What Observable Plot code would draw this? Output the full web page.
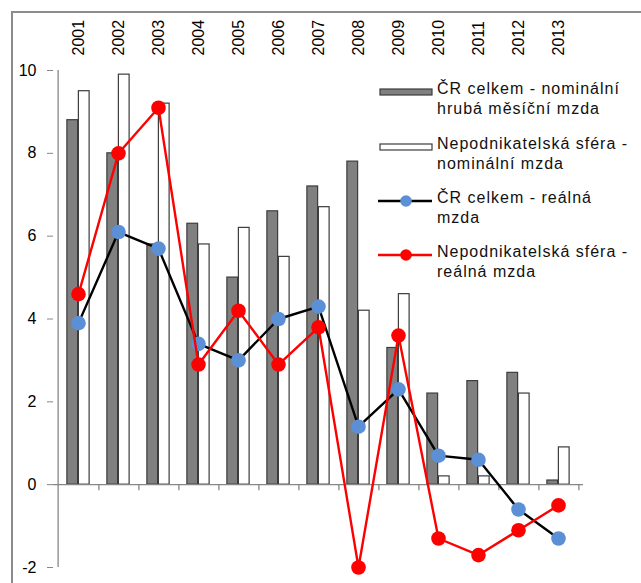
<!DOCTYPE html>
<html>
<head>
<meta charset="utf-8">
<script src="https://cdn.jsdelivr.net/npm/d3@7"></script>
<script src="https://cdn.jsdelivr.net/npm/@observablehq/plot@0.6"></script>
<style>
  html, body { margin: 0; padding: 0; background: #fff; overflow: hidden; }
  #wrap { position: relative; width: 641px; height: 583px; font-family: "Liberation Sans", Arial, sans-serif; }
  #border { position: absolute; left: 11px; top: 11px; width: 700px; height: 700px;
            border-left: 2px solid #8c8c8c; border-top: 2px solid #8c8c8c; pointer-events: none; }
  #chart { position: absolute; left: 0; top: 0; }
  #legend { position: absolute; left: 378px; top: 0; width: 263px; font-size: 16px; font-weight: 400; letter-spacing: 1px; color: #111; }
  .item { position: absolute; left: 0; }
  .item svg { position: absolute; left: 0; }
  .item .t { position: absolute; left: 59px; line-height: 20px; white-space: nowrap; }
</style>
</head>
<body>
<div id="wrap">
  <div id="chart"></div>
  <div id="border"></div>
  <div id="legend"></div>
</div>
<script>
// ---- data ----
const years = ["2001","2002","2003","2004","2005","2006","2007","2008","2009","2010","2011","2012","2013"];
const nominalCR = [8.8, 8.0, 5.8, 6.3, 5.0, 6.6, 7.2, 7.8, 3.3, 2.2, 2.5, 2.7, 0.1];
const nominalNS = [9.5, 9.9, 9.2, 5.8, 6.2, 5.5, 6.7, 4.2, 4.6, 0.2, 0.2, 2.2, 0.9];
const realCR    = [3.9, 6.1, 5.7, 3.4, 3.0, 4.0, 4.3, 1.4, 2.3, 0.7, 0.6, -0.6, -1.3];
const realNS    = [4.6, 8.0, 9.1, 2.9, 4.2, 2.9, 3.8, -2.0, 3.6, -1.3, -1.7, -1.1, -0.5];
const yTicks = [-2, 0, 2, 4, 6, 8, 10];
const seriesNames = [
  ["ČR celkem - nominální", "hrubá měsíční mzda"],
  ["Nepodnikatelská sféra -", "nominální mzda"],
  ["ČR celkem - reálná", "mzda"],
  ["Nepodnikatelská sféra -", "reálná mzda"]
];

const table = years.map((year, i) => ({
  year, nomCR: nominalCR[i], nomNS: nominalNS[i], realCR: realCR[i], realNS: realNS[i]
}));

// ---- layout ----
const W = 641, H = 583;
const mL = 53, mR = 58, mT = 70, mB = 16;
const bw = (W - mL - mR) / years.length;
const barW = 11.5;
const axisGray = "#868686";
const barStroke = "#3c3c3c";
const blue = "#5b8fd6";
const red = "#ff0000";

const chart = Plot.plot({
  width: W, height: H,
  marginLeft: mL, marginRight: mR, marginTop: mT, marginBottom: mB,
  style: { fontFamily: "'Liberation Sans', Arial, sans-serif", background: "transparent" },
  x: { type: "band", domain: years, padding: 0, axis: null },
  y: { domain: [-2, 10], axis: null },
  marks: [
    Plot.barY(table, { x: "year", y: "nomCR", fill: "#808080", stroke: barStroke, strokeWidth: 1.2,
      insetLeft: bw / 2 - barW, insetRight: bw / 2 }),
    Plot.barY(table, { x: "year", y: "nomNS", fill: "#ffffff", stroke: barStroke, strokeWidth: 1.2,
      insetLeft: bw / 2, insetRight: bw / 2 - barW }),
    Plot.ruleY([0], { stroke: axisGray, strokeWidth: 1.3 }),
    Plot.ruleX(years, { x: d => d, y1: 0, y2: 0, insetBottom: -6, dx: bw / 2, stroke: axisGray, strokeWidth: 1.3 }),
    Plot.ruleX([years[0]], { x: d => d, y1: -2, y2: 10, dx: -bw / 2, stroke: axisGray, strokeWidth: 1.3 }),
    Plot.axisY({ ticks: yTicks, tickSize: 6, tickPadding: 11, fontSize: 16, stroke: axisGray, fill: "#000",
      label: null, tickFormat: d => String(d).replace("−", "-") }),
    Plot.axisX({ anchor: "top", tickSize: 0, tickPadding: 15, tickRotate: -90, fontSize: 16, fill: "#000", label: null }),
    Plot.lineY(table, { x: "year", y: "realCR", stroke: "#000", strokeWidth: 2.4 }),
    Plot.dot(table, { x: "year", y: "realCR", r: 7.3, fill: blue, stroke: "none" }),
    Plot.lineY(table, { x: "year", y: "realNS", stroke: red, strokeWidth: 2.4 }),
    Plot.dot(table, { x: "year", y: "realNS", r: 7.3, fill: red, stroke: "none" })
  ]
});
document.getElementById("chart").appendChild(chart);

// ---- legend ----
const legendTops = [79, 134, 188, 242];
const swatches = [
  `<rect x="2" y="9" width="52" height="6" fill="#808080" stroke="${barStroke}" stroke-width="1.2"/>`,
  `<rect x="2" y="9" width="52" height="6" fill="#fff" stroke="${barStroke}" stroke-width="1.2"/>`,
  `<line x1="0" y1="12" x2="54" y2="12" stroke="#000" stroke-width="2.4"/><circle cx="28" cy="12" r="5.8" fill="${blue}"/>`,
  `<line x1="0" y1="12" x2="54" y2="12" stroke="${red}" stroke-width="2.4"/><circle cx="28" cy="12" r="5.8" fill="${red}"/>`
];
const legend = document.getElementById("legend");
seriesNames.forEach((lines, i) => {
  const div = document.createElement("div");
  div.className = "item";
  div.style.top = legendTops[i] + "px";
  div.innerHTML = `<svg width="56" height="24" style="top:1px">${swatches[i]}</svg><div class="t">${lines[0]}<br>${lines[1]}</div>`;
  legend.appendChild(div);
});
</script>
</body>
</html>
